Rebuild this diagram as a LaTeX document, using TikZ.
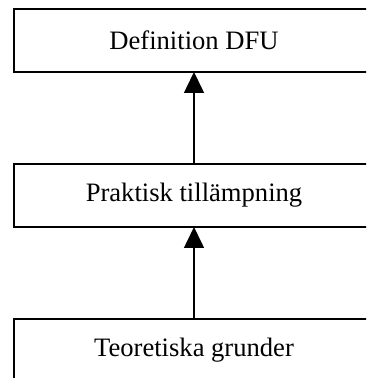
\documentclass[tikz,border=0pt]{standalone}
\usepackage{fontspec}
\setmainfont{Liberation Serif}
\usetikzlibrary{positioning,arrows.meta}
\tikzset{
  ruta/.style={draw,line width=0.9pt,minimum width=180pt,minimum height=31.5pt,
    inner sep=0pt,outer sep=0pt,font=\fontsize{13.3}{16}\selectfont},
  pil/.style={-{Triangle[width=10pt,length=10.5pt]},line width=0.75pt}
}
\begin{document}
\begin{tikzpicture}[node distance=46pt]
% ram for bilden
\clip (0,0) rectangle (183pt,189pt);
% rutorna
\node[ruta] (def) at (97pt,168.75pt) {Definition DFU};
\node[ruta,below=of def] (prak) {Praktisk tillämpning};
\node[ruta,below=of prak] (teori) {Teoretiska grunder};
% pilarna
\draw[pil] (teori) -- (prak);
\draw[pil] (prak) -- (def);
\end{tikzpicture}
\end{document}
